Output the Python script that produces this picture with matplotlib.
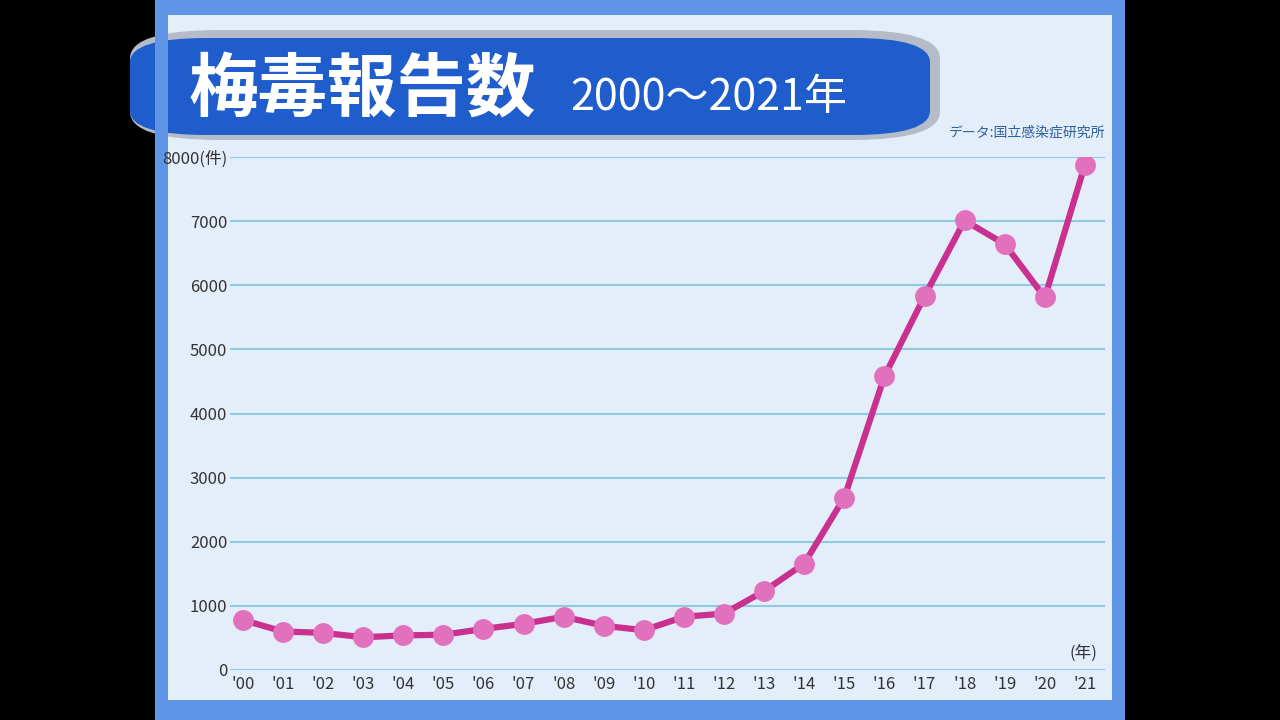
import matplotlib
matplotlib.use("Agg")
from matplotlib import pyplot as plt
from matplotlib.patches import FancyBboxPatch, Rectangle

plt.rcParams['font.family'] = ['Noto Sans CJK JP', 'DejaVu Sans']

years = ["'00", "'01", "'02", "'03", "'04", "'05", "'06", "'07", "'08", "'09", "'10",
         "'11", "'12", "'13", "'14", "'15", "'16", "'17", "'18", "'19", "'20", "'21"]
cases = [780, 600, 580, 510, 540, 550, 640, 720, 830, 690, 620,
         830, 880, 1230, 1660, 2690, 4580, 5830, 7010, 6640, 5810, 7880]
yticks = [0, 1000, 2000, 3000, 4000, 5000, 6000, 7000, 8000]

W, H = 1280, 720
fig = plt.figure(figsize=(12.8, 7.2), dpi=100, facecolor='black')

def fx(px): return px / W
def fy(py): return 1 - py / H

# frame and panel
fig.patches.append(Rectangle((fx(155), 0), fx(970), 1, transform=fig.transFigure,
                             facecolor='#5f95e6', edgecolor='none', zorder=0))
fig.patches.append(Rectangle((fx(168), fy(700)), fx(944), (700 - 15) / H, transform=fig.transFigure,
                             facecolor='#e4eefb', edgecolor='none', zorder=0))

# title banner with shadow
fig.patches.append(FancyBboxPatch((fx(130), fy(140)), fx(810), 110 / H,
                                  boxstyle='round,pad=0,rounding_size=0.07',
                                  transform=fig.transFigure, facecolor='#b5bcc8',
                                  edgecolor='none', zorder=1, mutation_aspect=H / W))
fig.patches.append(FancyBboxPatch((fx(130), fy(135)), fx(800), 97 / H,
                                  boxstyle='round,pad=0,rounding_size=0.06',
                                  transform=fig.transFigure, facecolor='#1f5ccc',
                                  edgecolor='none', zorder=2, mutation_aspect=H / W))
# cover banner overhang on the left frame
fig.patches.append(Rectangle((fx(155), fy(145)), fx(13), 120 / H, transform=fig.transFigure,
                             facecolor='#5f95e6', edgecolor='none', zorder=2.5))
fig.text(fx(188), fy(90), '梅毒報告数', color='white', fontsize=50, fontweight='bold',
         va='center', ha='left', zorder=3)
fig.text(fx(570), fy(98), '2000～2021年', color='white', fontsize=31,
         va='center', ha='left', zorder=3)
fig.text(fx(1105), fy(133), 'データ:国立感染症研究所', color='#2f5f9a', fontsize=10,
         va='center', ha='right', zorder=3)

ax = fig.add_axes([fx(230), fy(670), fx(875), (670 - 157) / H])
ax.set_zorder(5)
ax.set_facecolor('none')
x = list(range(len(years)))
ax.plot(x, cases, color='#c8318f', lw=4.5, zorder=3)
ax.plot(x, cases, 'o', color='#e271bd', markersize=15, markeredgewidth=0, zorder=4)
ax.set_xlim(-0.32, 21.5)
ax.set_ylim(0, 8000)
ax.set_yticks(yticks)
ax.set_yticklabels([str(v) for v in yticks[:-1]] + ['8000(件)'])
ax.set_xticks(x)
ax.set_xticklabels(years)
ax.grid(axis='y', color='#8ccbe2', lw=1.5)
ax.set_axisbelow(True)
for s in ax.spines.values():
    s.set_visible(False)
ax.tick_params(length=0, labelsize=12, labelcolor='#333333', pad=4)
ax.tick_params(axis='y', pad=2)
for lab in ax.get_yticklabels():
    lab.set_horizontalalignment('right')
ax.text(21.3, 120, '(年)', fontsize=12, color='#333333', ha='right', va='bottom')

fig.savefig('out.png', dpi=100, facecolor='black')
